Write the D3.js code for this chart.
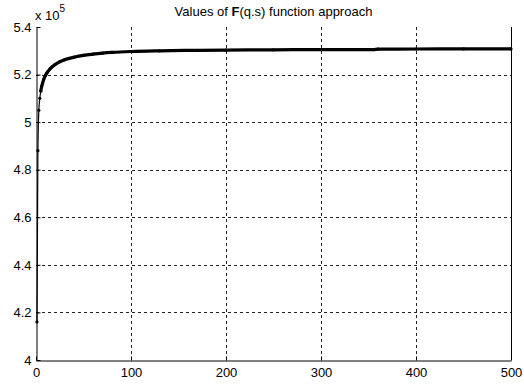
<!DOCTYPE html>
<html>
<head>
<meta charset="utf-8">
<script src="https://cdn.jsdelivr.net/npm/d3@7"></script>
<style>
  html, body { margin: 0; padding: 0; background: #fff; }
  svg { display: block; font-family: "Liberation Sans", Arial, sans-serif; }
</style>
</head>
<body>
<svg id="chart" width="524" height="385"></svg>
<script>
// Iteration index and F(q,s) value (in units of 1e5)
const iterations = [1, 2, 3, 4, 5, 6, 7, 8, 10, 12, 15, 20, 25, 30, 40, 50, 60, 70, 80, 100, 130, 170, 200, 250, 300, 355, 360, 400, 450, 500];
const fValues = [4.16, 4.88, 5.05, 5.10, 5.13, 5.15, 5.165, 5.178, 5.197, 5.21, 5.225, 5.242, 5.254, 5.262, 5.273, 5.281, 5.286, 5.29, 5.293, 5.297, 5.300, 5.302, 5.303, 5.304, 5.305, 5.305, 5.307, 5.3075, 5.308, 5.308];

const xTicks = [0, 100, 200, 300, 400, 500];
const yTicks = [4, 4.2, 4.4, 4.6, 4.8, 5, 5.2, 5.4];
const yTickLabels = ["4", "4.2", "4.4", "4.6", "4.8", "5", "5.2", "5.4"];

const titleText = "F(q.s)";

const svg = d3.select("#chart");
const m = { left: 36, right: 511, top: 27, bottom: 360 };

const x = d3.scaleLinear().domain([0, 500]).range([m.left, m.right]);
const y = d3.scaleLinear().domain([4, 5.4]).range([m.bottom, m.top]);

const points = iterations.map((it, i) => ({ it, v: fValues[i] }));

// Dashed grid
const grid = svg.append("g");
grid.selectAll("line.gx").data(xTicks.slice(1, -1)).join("line")
  .attr("x1", d => Math.round(x(d)) + 0.5).attr("x2", d => Math.round(x(d)) + 0.5)
  .attr("y1", m.top).attr("y2", m.bottom)
  .attr("stroke", "#222").attr("stroke-width", 1).attr("stroke-dasharray", "3,3");
grid.selectAll("line.gy").data(yTicks.slice(1, -1)).join("line")
  .attr("x1", m.left).attr("x2", m.right)
  .attr("y1", d => Math.round(y(d)) + 0.5).attr("y2", d => Math.round(y(d)) + 0.5)
  .attr("stroke", "#222").attr("stroke-width", 1).attr("stroke-dasharray", "3,3");

// Axes (ticks drawn inward)
const xAxis = d3.axisBottom(x).tickValues(xTicks).tickSizeInner(-4).tickSizeOuter(0).tickPadding(5);
const yAxis = d3.axisLeft(y).tickValues(yTicks).tickFormat((d, i) => yTickLabels[i]).tickSizeInner(-4).tickSizeOuter(0).tickPadding(5);

const gx = svg.append("g").attr("transform", `translate(0,${m.bottom + 0.5})`).call(xAxis);
const gy = svg.append("g").attr("transform", `translate(${m.left + 0.5},0)`).call(yAxis);
[gx, gy].forEach(g => {
  g.select(".domain").attr("stroke", "#000");
  g.selectAll(".tick line").attr("stroke", "#000");
  g.selectAll(".tick text").attr("fill", "#000").attr("font-size", 13)
    .attr("font-family", "Liberation Sans, Arial, sans-serif");
});
gx.selectAll(".tick text").attr("dy", "0.85em");

// Right border
svg.append("line")
  .attr("x1", m.right + 0.5).attr("x2", m.right + 0.5).attr("y1", m.top).attr("y2", m.bottom)
  .attr("stroke", "#000");

// Curve: thin connector for the sparse early steps, heavy stroke where markers crowd together
const line = d3.line().x(d => x(d.it)).y(d => y(d.v)).curve(d3.curveMonotoneX);
svg.append("path").datum(points)
  .attr("d", line).attr("fill", "none").attr("stroke", "#000").attr("stroke-width", 1.2);
svg.append("path").datum(points.filter(d => d.it >= 5))
  .attr("d", line).attr("fill", "none").attr("stroke", "#000").attr("stroke-width", 3.2);
svg.append("g").selectAll("circle").data(points).join("circle")
  .attr("cx", d => x(d.it)).attr("cy", d => y(d.v)).attr("r", 1.6).attr("fill", "#000");

// Title with bold function name
const title = svg.append("text")
  .attr("x", (m.left + m.right) / 2).attr("y", 16)
  .attr("text-anchor", "middle").attr("font-size", 13).attr("fill", "#000");
title.append("tspan").text("Values of ");
title.append("tspan").attr("font-weight", "bold").text(titleText.slice(0, 1));
title.append("tspan").text(titleText.slice(1) + " function approach");

// Exponent label
const expo = svg.append("text").attr("x", 35).attr("y", 20).attr("font-size", 13).attr("fill", "#000");
expo.append("tspan").text("x 10");
expo.append("tspan").attr("dy", -8).attr("font-size", 10).text("5");
</script>
</body>
</html>
